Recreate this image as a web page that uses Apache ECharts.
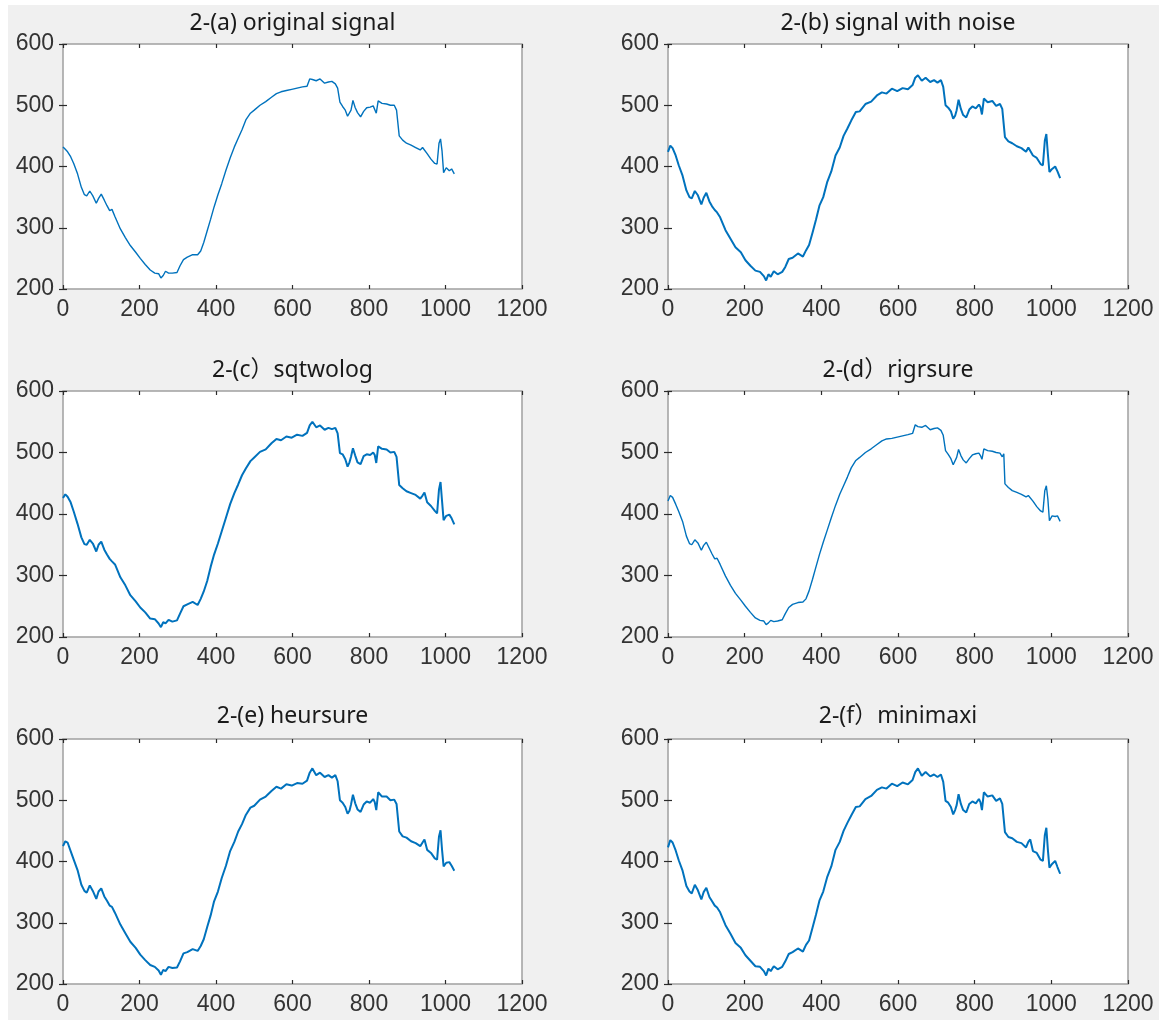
<!DOCTYPE html>
<html>
<head>
<meta charset="utf-8">
<script src="https://cdn.jsdelivr.net/npm/echarts@6/dist/echarts.min.js"></script>
<style>
  html, body { margin: 0; padding: 0; background: #ffffff; }
  #frame { position: absolute; left: 8px; top: 5px; width: 1151px; height: 1015px; background: #f0f0f0; }
  #chart { position: absolute; left: 0; top: 0; width: 1159px; height: 1020px; }
</style>
</head>
<body>
<div id="frame"></div>
<div id="chart"></div>
<script>
// Sample positions (signal index) shared by all six panels
const sampleIndex = [
  0, 6, 12, 20, 28, 38, 48, 56, 62, 70,
  78, 87, 93, 100, 108, 115, 122, 128, 136, 150,
  163, 176, 190, 202, 215, 228, 240, 250, 256, 262,
  268, 276, 286, 298, 306, 315, 325, 339, 352, 360,
  368, 377, 386, 395, 405, 415, 426, 437, 448, 458,
  468, 478, 490, 500, 515, 530, 545, 558, 570, 584,
  598, 612, 626, 638, 645, 652, 662, 672, 684, 694,
  703, 712, 718, 724, 731, 738, 744, 749, 753, 758,
  764, 770, 778, 786, 794, 803, 811, 815, 819, 824,
  834, 846, 856, 866, 872, 876, 879, 888, 898, 910,
  922, 934, 940, 945, 952, 962, 972, 978, 983, 987,
  991, 995, 1002, 1010, 1016, 1023
];

// 2-(a) original signal
const originalSignal = [
  432, 428, 424, 416, 405, 388, 366, 354, 352, 360,
  352, 340, 348, 355, 345, 336, 328, 330, 318, 298,
  284, 271, 260, 250, 240, 231, 226, 225, 218, 222,
  229, 226, 226, 227, 238, 248, 252, 256, 256, 262,
  276, 295, 314, 334, 354, 372, 394, 414, 432, 446,
  460, 476, 487, 492, 500, 506, 513, 519, 522, 524,
  526, 528, 530, 531, 543, 542, 540, 543, 536, 538,
  539, 535, 528, 505, 498, 492, 482, 480, 492, 508,
  496, 488, 481, 490, 496, 497, 499, 496, 487, 507,
  503, 502, 500, 500, 492, 490, 450, 443, 438, 435,
  431, 427, 431, 432, 421, 412, 405, 404, 438, 445,
  425, 390, 398, 393, 396, 388
];

// 2-(b) signal with noise
const noisySignal = [
  424, 434, 430, 418, 402, 385, 361, 350, 348, 360,
  353, 338, 349, 357, 343, 335, 329, 325, 317, 296,
  282, 268, 260, 247, 238, 230, 228, 221, 214, 224,
  220, 229, 224, 228, 236, 249, 251, 258, 253, 263,
  272, 292, 313, 336, 350, 374, 392, 418, 431, 450,
  462, 475, 489, 490, 502, 506, 516, 521, 519, 527,
  523, 528, 526, 533, 545, 549, 540, 545, 538, 541,
  537, 541, 530, 500, 496, 490, 478, 483, 492, 509,
  494, 484, 480, 493, 498, 495, 501, 497, 485, 511,
  505, 507, 499, 502, 494, 496, 448, 441, 438, 433,
  430, 424, 431, 434, 418, 414, 404, 402, 442, 453,
  420, 391, 396, 400, 392, 381
];

// 2-(c) sqtwolog threshold
const sqtwologSignal = [
  426, 432, 428, 419, 404, 384, 362, 351, 350, 358,
  352, 339, 350, 355, 342, 334, 327, 323, 318, 297,
  284, 268, 258, 248, 240, 230, 229, 222, 216, 224,
  222, 228, 225, 227, 238, 250, 253, 257, 252, 262,
  274, 291, 314, 334, 352, 372, 394, 416, 434, 448,
  463, 474, 486, 492, 501, 505, 515, 522, 520, 526,
  524, 529, 527, 532, 544, 550, 541, 544, 537, 540,
  538, 540, 531, 499, 497, 489, 477, 484, 493, 507,
  495, 484, 481, 494, 497, 496, 500, 496, 483, 510,
  506, 505, 500, 501, 493, 495, 447, 442, 437, 434,
  431, 425, 430, 435, 419, 413, 405, 401, 440, 452,
  421, 390, 397, 399, 393, 383
];

// 2-(d) rigrsure threshold
const rigrsureSignal = [
  421, 430, 427, 416, 404, 388, 364, 352, 350, 358,
  353, 341, 349, 354, 344, 335, 327, 328, 318, 299,
  284, 271, 260, 250, 240, 231, 227, 226, 220, 223,
  227, 225, 226, 228, 238, 248, 253, 256, 257, 262,
  275, 294, 314, 334, 354, 373, 394, 414, 432, 446,
  460, 475, 487, 492, 500, 506, 513, 519, 522, 523,
  525, 527, 529, 531, 545, 542, 541, 544, 537, 539,
  540, 536, 528, 503, 497, 490, 480, 478, 492, 505,
  495, 488, 483, 490, 496, 498, 499, 495, 489, 506,
  503, 502, 500, 499, 493, 498, 449, 443, 438, 435,
  432, 428, 430, 433, 421, 412, 405, 403, 438, 446,
  424, 389, 397, 396, 397, 388
];

// 2-(e) heursure threshold
const heursureSignal = [
  425, 433, 431, 417, 403, 386, 362, 352, 349, 361,
  352, 339, 351, 356, 343, 336, 328, 326, 316, 297,
  283, 269, 259, 248, 239, 231, 228, 222, 215, 223,
  221, 228, 226, 227, 237, 250, 252, 257, 254, 262,
  273, 293, 312, 335, 351, 373, 393, 417, 432, 449,
  461, 476, 488, 491, 501, 506, 515, 522, 519, 526,
  524, 528, 527, 532, 545, 552, 541, 545, 538, 541,
  537, 541, 531, 500, 496, 489, 478, 483, 493, 509,
  495, 485, 481, 493, 498, 496, 502, 497, 484, 513,
  506, 506, 500, 501, 494, 497, 449, 441, 439, 433,
  430, 425, 431, 436, 419, 414, 405, 403, 441, 451,
  419, 392, 398, 399, 393, 385
];

// 2-(f) minimaxi threshold
const minimaxiSignal = [
  423, 435, 431, 418, 402, 385, 360, 351, 348, 362,
  353, 338, 350, 357, 342, 335, 328, 325, 317, 296,
  282, 267, 259, 247, 238, 229, 228, 221, 214, 225,
  221, 229, 224, 228, 237, 249, 252, 258, 253, 264,
  271, 292, 313, 336, 351, 374, 392, 419, 432, 450,
  463, 475, 489, 490, 502, 507, 517, 521, 519, 527,
  523, 529, 526, 533, 546, 552, 540, 546, 539, 542,
  538, 542, 530, 499, 496, 489, 477, 484, 492, 510,
  494, 484, 480, 494, 498, 495, 502, 497, 484, 513,
  506, 508, 499, 503, 494, 497, 448, 440, 438, 432,
  430, 423, 432, 436, 417, 414, 403, 401, 443, 455,
  419, 390, 396, 401, 391, 380
];

const panelTitles = [
  '2-(a) original signal',
  '2-(b) signal with noise',
  '2-(c\uFF09sqtwolog',
  '2-(d\uFF09rigrsure',
  '2-(e) heursure',
  '2-(f\uFF09minimaxi'
];

const xTickValues = [0, 200, 400, 600, 800, 1000, 1200];
const yTickValues = [200, 300, 400, 500, 600];

const panelSignals = [originalSignal, noisySignal, sqtwologSignal, rigrsureSignal, heursureSignal, minimaxiSignal];
// noisy panels read visually heavier
const lineWidths = [1.4, 2.0, 2.0, 1.4, 2.0, 2.0];

const TICK_FONT = "'Liberation Sans', Arial, sans-serif";
const TITLE_FONT = "'Noto Sans', 'Noto Sans CJK SC', sans-serif";
const columns = [{ left: 63, width: 459 }, { left: 668, width: 460 }];
const rows = [
  { top: 44, height: 245, titleY: 23 },
  { top: 391, height: 246, titleY: 370 },
  { top: 739, height: 245, titleY: 716 }
];

function tickAxis(kind, gridIndex, position, showLabels) {
  const ticks = kind === 'x' ? xTickValues : yTickValues;
  return {
    type: 'value', gridIndex, position,
    min: ticks[0], max: ticks[ticks.length - 1],
    interval: ticks[1] - ticks[0],
    axisLine: { show: false },
    axisTick: { show: true, inside: true, length: 4, lineStyle: { color: '#2a2a2a', width: 1.2 } },
    axisLabel: {
      show: showLabels, fontSize: 23, color: '#333333', margin: 9, fontFamily: TICK_FONT,
      formatter: (v) => String(v)
    },
    splitLine: { show: false }
  };
}

const grid = [], xAxis = [], yAxis = [], series = [], graphic = [];
panelTitles.forEach((title, i) => {
  const col = columns[i % 2];
  const row = rows[Math.floor(i / 2)];
  grid.push({
    left: col.left, top: row.top, width: col.width, height: row.height,
    show: true, backgroundColor: '#ffffff', borderColor: '#a0a0a0', borderWidth: 1.5,
    containLabel: false, outerBoundsMode: 'none'
  });
  xAxis.push(tickAxis('x', i, 'bottom', true), tickAxis('x', i, 'top', false));
  yAxis.push(tickAxis('y', i, 'left', true), tickAxis('y', i, 'right', false));
  series.push({
    type: 'line',
    xAxisIndex: 2 * i, yAxisIndex: 2 * i,
    data: sampleIndex.map((x, k) => [x, panelSignals[i][k]]),
    symbol: 'none', showSymbol: false,
    lineStyle: { color: '#0072BD', width: lineWidths[i] },
    z: 3
  });
  graphic.push({
    type: 'text',
    x: col.left + col.width / 2, y: row.titleY,
    style: {
      text: title, font: '23px ' + TITLE_FONT, fill: '#1a1a1a',
      align: 'center', verticalAlign: 'middle',
      textAlign: 'center', textVerticalAlign: 'middle'
    }
  });
});

const chart = echarts.init(document.getElementById('chart'), null, { renderer: 'canvas' });
chart.setOption({
  backgroundColor: 'transparent',
  animation: false,
  grid, xAxis, yAxis, series, graphic
});
</script>
</body>
</html>
